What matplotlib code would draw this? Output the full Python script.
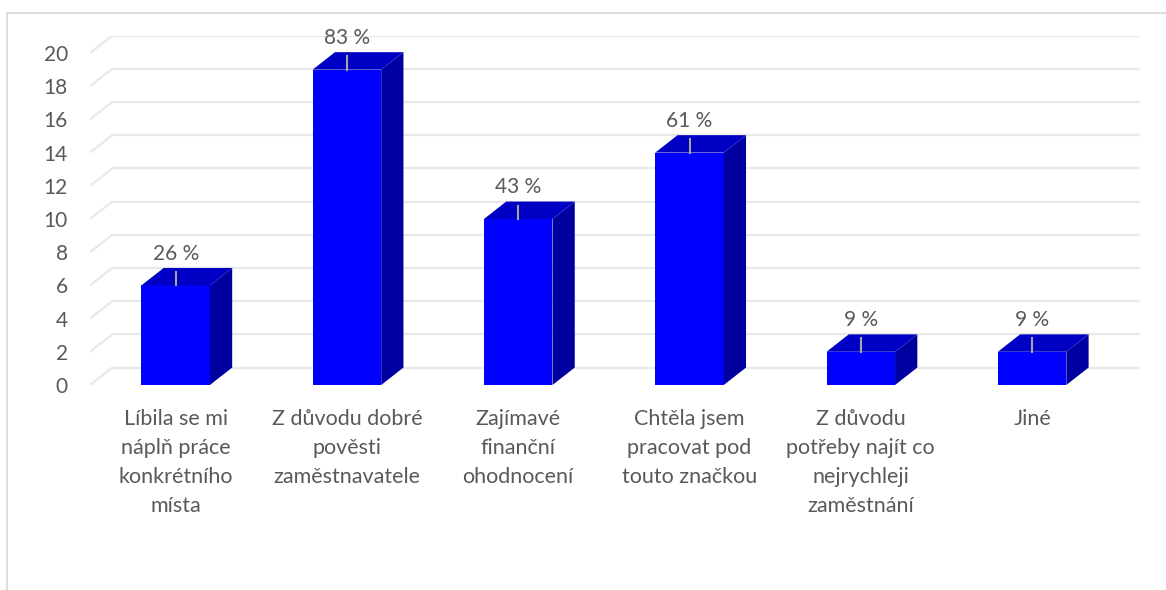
import matplotlib.pyplot as plt
from matplotlib.patches import Polygon, Rectangle

plt.rcParams['font.family'] = ['Lato', 'DejaVu Sans']

kategorie = [
    "Líbila se mi\nnáplň práce\nkonkrétního\nmísta",
    "Z důvodu dobré\npověsti\nzaměstnavatele",
    "Zajímavé\nfinanční\nohodnocení",
    "Chtěla jsem\npracovat pod\ntouto značkou",
    "Z důvodu\npotřeby najít co\nnejrychleji\nzaměstnání",
    "Jiné",
]
pocty = [6, 19, 10, 14, 2, 2]
popisky = ["26 %", "83 %", "43 %", "61 %", "9 %", "9 %"]
osa_y = list(range(0, 21, 2))

sedy_text = '#595959'
mrizka = '#e9e9e9'
cela = '#0000ff'
vrch = '#0000c4'
bok = '#0000a0'

# hloubka 3D efektu (v jednotkach os)
dx, dy = 0.13, 1.05
sirka = 0.4

fig = plt.figure(figsize=(11.66, 5.90), dpi=100)
ax = fig.add_axes([0.0772, 0.3475, 0.9005, 0.5922])
ax.set_xlim(-0.5, len(pocty) - 0.5 + dx)
ax.set_ylim(0, max(osa_y) + dy)

# zadni stena s mrizkou a sikme cary k popiskum osy
for v in osa_y:
    ax.plot([-0.5, -0.5 + dx], [v, v + dy], color=mrizka, lw=1.6, zorder=1,
            solid_capstyle='butt')
    ax.plot([-0.5 + dx, len(pocty) - 0.5 + dx], [v + dy, v + dy], color=mrizka,
            lw=1.6, zorder=1, solid_capstyle='butt')

for i, (h, txt) in enumerate(zip(pocty, popisky)):
    x0, x1 = i - sirka / 2, i + sirka / 2
    ax.add_patch(Rectangle((x0, 0), sirka, h, facecolor=cela, edgecolor='none', zorder=3))
    ax.add_patch(Polygon([(x1, 0), (x1 + dx, dy), (x1 + dx, h + dy), (x1, h)],
                         facecolor=bok, edgecolor='none', zorder=3))
    ax.add_patch(Polygon([(x0, h), (x1, h), (x1 + dx, h + dy), (x0 + dx, h + dy)],
                         facecolor=vrch, edgecolor='none', zorder=3))
    ax.plot([i, i], [h, h + 0.8], color='#a6a6a6', lw=1.5, zorder=4)
    ax.text(i, h + 1.9, txt, ha='center', va='center', fontsize=15,
            color=sedy_text, zorder=5)

ax.set_yticks(osa_y)
ax.set_yticklabels([str(v) for v in osa_y])
ax.set_xticks(range(len(kategorie)))
ax.set_xticklabels(kategorie, va='top', linespacing=1.55)
ax.tick_params(axis='y', length=0, pad=16, labelsize=15, labelcolor=sedy_text)
ax.tick_params(axis='x', length=0, pad=17.5, labelsize=15.5, labelcolor=sedy_text)
for s in ax.spines.values():
    s.set_visible(False)
ax.patch.set_visible(False)

# ramecek grafu
fig.patches.append(Rectangle((7 / 1166, -0.1), 2, 1.1 - 13 / 590, transform=fig.transFigure,
                             facecolor='none', edgecolor='#d9d9d9', lw=1.3, zorder=0))

fig.savefig('out.png', dpi=100)
